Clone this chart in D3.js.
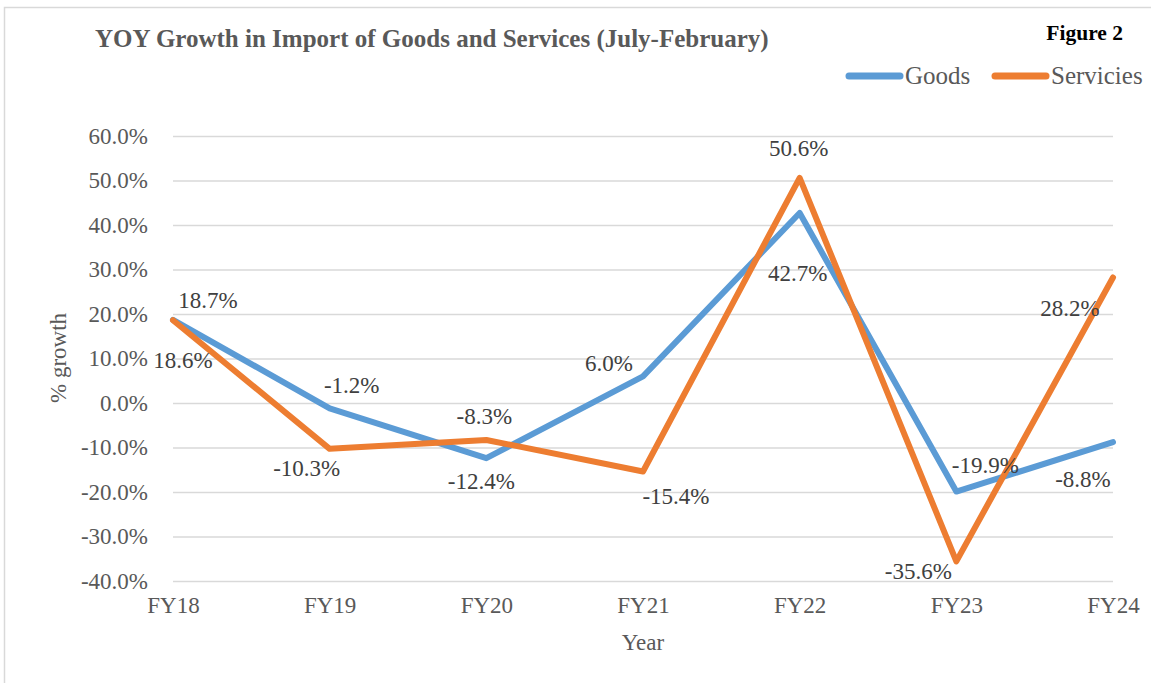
<!DOCTYPE html>
<html>
<head>
<meta charset="utf-8">
<script src="https://cdn.jsdelivr.net/npm/d3@7"></script>
<style>
  body { margin: 0; background: #fff; }
  svg { display: block; }
  svg text { font-family: "Liberation Serif", "Times New Roman", serif; }
</style>
</head>
<body>
<svg id="chart"></svg>
<script>
// ─── Data ─────────────────────────────────────────────────────────────────────
const years = ["FY18", "FY19", "FY20", "FY21", "FY22", "FY23", "FY24"];
const goods = [18.7, -1.2, -12.4, 6.0, 42.7, -19.9, -8.8];
const services = [18.6, -10.3, -8.3, -15.4, 50.6, -35.6, 28.2];
const yTicks = [-40, -30, -20, -10, 0, 10, 20, 30, 40, 50, 60];
const seriesNames = ["Goods", "Servicies"];

// Label placement (centre offset from point, px) — picked to match the reference.
const goodsLabelOffsets = [[35, -20], [22, -23], [-5, 23], [-34, -13], [-2, 60], [29, -27], [-30, 37]];
const servicesLabelOffsets = [[10, 40], [-23, 19], [-2, -24], [33, 24], [-1, -30], [-38, 10], [-43, 30]];

// ─── Configuration ────────────────────────────────────────────────────────────
const W = 1151, H = 683;
const plot = { left: 173, right: 1113, top: 136, bottom: 581 };
const colors = { goods: "#5B9BD5", services: "#ED7D31", grid: "#d9d9d9", axisText: "#595959", label: "#404040" };
const FONT = "Liberation Serif";

const svg = d3.select("#chart").attr("width", W).attr("height", H);

// Outer chart border
svg.append("rect")
  .attr("x", 4.5).attr("y", 7.5)
  .attr("width", W).attr("height", H)
  .attr("fill", "none")
  .attr("stroke", colors.grid)
  .attr("stroke-width", 1.5);

const x = d3.scalePoint().domain(years).range([plot.left, plot.right]);
const y = d3.scaleLinear().domain([-40, 60]).range([plot.bottom, plot.top]);

// ─── Gridlines ────────────────────────────────────────────────────────────────
svg.append("g")
  .attr("transform", `translate(${plot.left},0)`)
  .call(d3.axisLeft(y).tickValues(yTicks).tickSize(-(plot.right - plot.left)).tickFormat(""))
  .call(g => g.select(".domain").remove())
  .call(g => g.selectAll("line").attr("stroke", colors.grid).attr("stroke-width", 1.5));

// ─── Axes ─────────────────────────────────────────────────────────────────────
svg.append("g")
  .attr("transform", `translate(${plot.left},0)`)
  .call(d3.axisLeft(y).tickValues(yTicks).tickSize(0).tickPadding(25).tickFormat(d => d.toFixed(1) + "%"))
  .call(g => g.select(".domain").remove())
  .call(g => g.selectAll("text")
    .attr("fill", colors.axisText)
    .style("font-size", "23px")
    .style("font-family", FONT));

svg.append("g")
  .attr("transform", `translate(0,${plot.bottom})`)
  .call(d3.axisBottom(x).tickSize(0).tickPadding(16))
  .call(g => g.select(".domain").remove())
  .call(g => g.selectAll("text")
    .attr("fill", colors.axisText)
    .style("font-size", "23px")
    .style("font-family", FONT));

// Axis titles
svg.append("text")
  .attr("transform", "translate(66,358) rotate(-90)")
  .attr("text-anchor", "middle")
  .attr("fill", colors.axisText)
  .style("font-family", FONT)
  .style("font-size", "23px")
  .text("% growth");

svg.append("text")
  .attr("x", 643).attr("y", 650)
  .attr("text-anchor", "middle")
  .attr("fill", colors.axisText)
  .style("font-family", FONT)
  .style("font-size", "23px")
  .text("Year");

// ─── Title & figure tag ───────────────────────────────────────────────────────
svg.append("text")
  .attr("x", 95).attr("y", 47)
  .attr("fill", colors.axisText)
  .style("font-family", FONT)
  .style("font-size", "25px")
  .style("font-weight", "bold")
  .text("YOY Growth in Import of Goods and Services (July-February)");

svg.append("text")
  .attr("x", 1123).attr("y", 40)
  .attr("text-anchor", "end")
  .attr("fill", "#000")
  .style("font-family", FONT)
  .style("font-size", "21.5px")
  .style("font-weight", "bold")
  .text("Figure 2");

// ─── Lines ────────────────────────────────────────────────────────────────────
const line = d3.line().x((d, i) => x(years[i])).y(d => y(d));

const series = [
  { name: seriesNames[0], values: goods, color: colors.goods, offsets: goodsLabelOffsets },
  { name: seriesNames[1], values: services, color: colors.services, offsets: servicesLabelOffsets }
];

series.forEach(s => {
  svg.append("path")
    .attr("d", line(s.values))
    .attr("fill", "none")
    .attr("stroke", s.color)
    .attr("stroke-width", 6)
    .attr("stroke-linejoin", "round")
    .attr("stroke-linecap", "round");
});

// ─── Data labels ──────────────────────────────────────────────────────────────
series.forEach(s => {
  svg.append("g").selectAll("text")
    .data(s.values)
    .join("text")
    .attr("x", (d, i) => x(years[i]) + s.offsets[i][0])
    .attr("y", (d, i) => y(d) + s.offsets[i][1] + 8)
    .attr("text-anchor", "middle")
    .attr("fill", colors.label)
    .style("font-family", FONT)
    .style("font-size", "23px")
    .text(d => d.toFixed(1) + "%");
});

// ─── Legend ───────────────────────────────────────────────────────────────────
const legendItems = [
  { name: seriesNames[0], color: colors.goods, x: 846 },
  { name: seriesNames[1], color: colors.services, x: 992 }
];
const legend = svg.append("g");
legendItems.forEach(item => {
  legend.append("line")
    .attr("x1", item.x + 3).attr("x2", item.x + 54)
    .attr("y1", 76).attr("y2", 76)
    .attr("stroke", item.color)
    .attr("stroke-width", 7)
    .attr("stroke-linecap", "round");
  legend.append("text")
    .attr("x", item.x + 59).attr("y", 84)
    .attr("fill", colors.axisText)
    .style("font-family", FONT)
    .style("font-size", "25px")
    .text(item.name);
});
</script>
</body>
</html>
